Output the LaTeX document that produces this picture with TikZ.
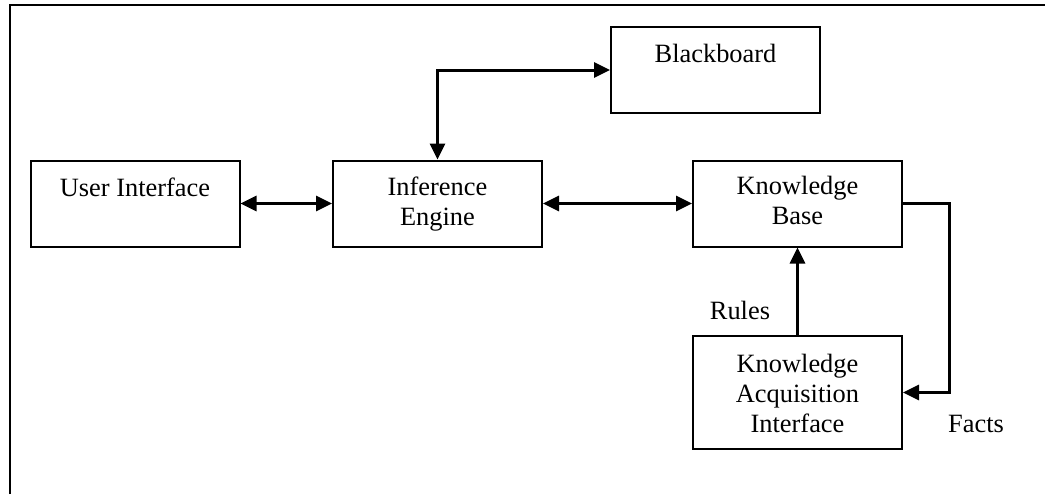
\documentclass[tikz,border=0pt]{standalone}
\usepackage{fontspec}
\setmainfont{Liberation Serif}
\usetikzlibrary{arrows.meta}
\begin{document}
\begin{tikzpicture}[x=0.5pt,y=-0.5pt,
  box/.style={draw=black,line width=1pt,minimum width=104.5pt,minimum height=43pt,inner sep=0pt,fill=white},
  lbl/.style={anchor=north,inner sep=0pt,align=center,font=\fontsize{13.2}{15}\selectfont},
  conn/.style={line width=1.5pt},
  tip/.tip={Triangle[length=8pt,width=7.5pt]}]
\useasboundingbox (0,0) rectangle (1045,494);
\draw[line width=1pt] (9.5,494) -- (9.5,4.5) -- (1045,4.5);
% boxes
\node[box] (ui) at (135,203.5) {};
\node[box] (ie) at (437.5,203.5) {};
\node[box] (kb) at (797.5,203.5) {};
\node[box] (bb) at (715.5,70) {};
\node[box,minimum height=56.5pt] (kai) at (797.5,392.5) {};
% texts
\node[lbl] (tui) at (135,178) {User Interface};
\node[lbl] (tie) at (437.5,177) {Inference\\Engine};
\node[lbl] (tkb) at (797.5,176) {Knowledge\\Base};
\node[lbl] (tbb) at (715.5,44) {Blackboard};
\node[lbl] (tkai) at (797.5,354) {Knowledge\\Acquisition\\Interface};
\node[lbl] (rules) at (740,301) {Rules};
\node[lbl] (facts) at (976,415) {Facts};
% connectors
\coordinate (corner) at (949,203.5);
\draw[conn,tip-tip] (ui.east) -- (ie.west);
\draw[conn,tip-tip] (ie.east) -- (kb.west);
\draw[conn,tip-tip] (ie.north) |- (bb.west);
\draw[conn,-tip] (kai.north) -- (kb.south);
\draw[conn,-tip] (kb.east) -- (corner) |- (kai.east);
\end{tikzpicture}
\end{document}
